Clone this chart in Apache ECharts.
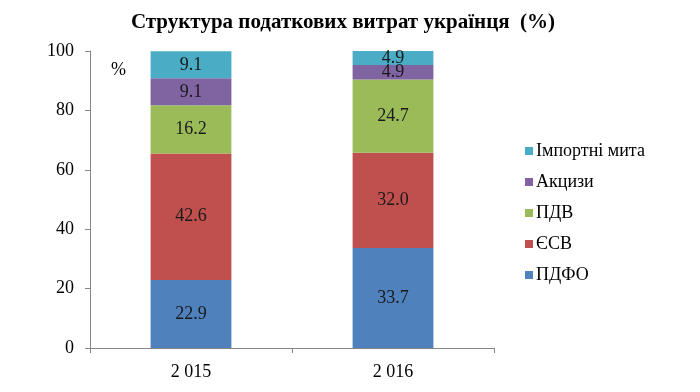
<!DOCTYPE html>
<html><head><meta charset="utf-8">
<script src="https://cdn.jsdelivr.net/npm/echarts@6/dist/echarts.min.js"></script>
<style>html,body{margin:0;padding:0;background:#fff}#c{width:700px;height:392px}</style>
</head><body><div id="c"></div>
<script>
const categories = ['2 015', '2 016'];
const pdfo = [22.9, 33.7];
const esv = [42.6, 32.0];
const pdv = [16.2, 24.7];
const akcyzy = [9.1, 4.9];
const importMyta = [9.1, 4.9];
const yTicks = [0, 20, 40, 60, 80, 100];

const font = 'Liberation Serif, Times New Roman, serif';
function s(name, data, color) {
  return {
    name, type: 'bar', stack: 'a', data, barWidth: '40%',
    itemStyle: { color },
    label: { show: true, position: 'inside', color: '#1a1a1a', fontFamily: font, fontSize: 18,
      formatter: p => p.value.toFixed(1) }
  };
}
const chart = echarts.init(document.getElementById('c'));
chart.setOption({
  animation: false,
  title: { text: 'Структура податкових витрат українця  (%)', left: 338, top: 7, textAlign: 'center',
    textStyle: { fontFamily: font, fontSize: 21, fontWeight: 'bold', color: '#000' } },
  grid: { left: 90, right: 206, top: 51, bottom: 44 },
  legend: {
    orient: 'vertical', left: 520, top: 137, itemGap: 13, itemWidth: 8, itemHeight: 8,
    icon: 'rect',
    data: ['Імпортні мита', 'Акцизи', 'ПДВ', 'ЄСВ', 'ПДФО'],
    textStyle: { fontFamily: font, fontSize: 18, color: '#000', padding: [0,0,0,-2] }
  },
  xAxis: {
    type: 'category', data: categories,
    axisLine: { lineStyle: { color: '#868686' } },
    axisTick: { show: true, length: 5, lineStyle: { color: '#868686' } },
    axisLabel: { fontFamily: font, fontSize: 18, color: '#000', margin: 15 }
  },
  yAxis: {
    type: 'value', min: 0, max: 100, interval: 20,
    axisLine: { show: true, lineStyle: { color: '#868686' } },
    axisTick: { show: true, length: 5, lineStyle: { color: '#868686' } },
    splitLine: { show: false },
    axisLabel: { fontFamily: font, fontSize: 18, color: '#000', margin: 16,
      formatter: v => yTicks.includes(v) ? String(v) : '' }
  },
  graphic: [{ type: 'text', left: 111, top: 61, style: { text: '%', fontFamily: font, fontSize: 18, fill: '#000' } }],
  series: [
    s('ПДФО', pdfo, '#4F81BD'),
    s('ЄСВ', esv, '#C0504D'),
    s('ПДВ', pdv, '#9BBB59'),
    s('Акцизи', akcyzy, '#8064A2'),
    s('Імпортні мита', importMyta, '#4BACC6')
  ]
});
</script></body></html>
